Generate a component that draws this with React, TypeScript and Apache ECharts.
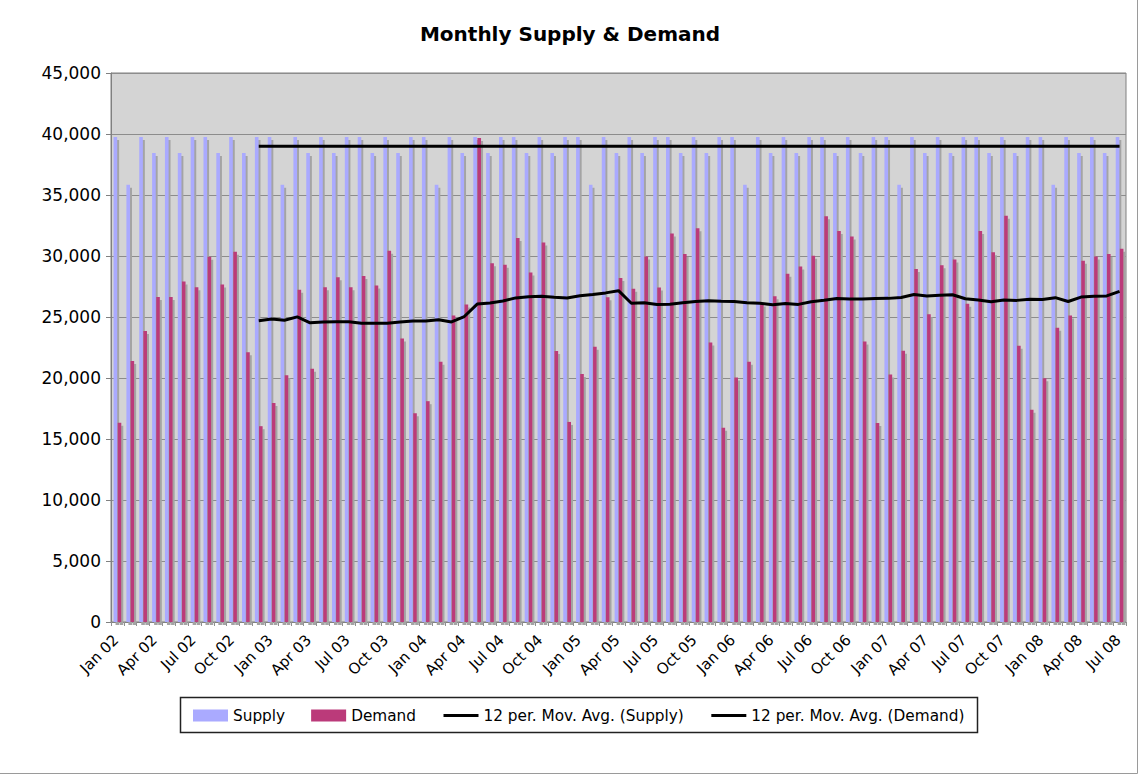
import React, { useEffect, useRef } from "react";
import * as echarts from "echarts";

const FONT = "'DejaVu Sans', Verdana, sans-serif";

const categories: string[] = [
  "Jan 02", "Feb 02", "Mar 02", "Apr 02", "May 02", "Jun 02", "Jul 02", "Aug 02", "Sep 02", "Oct 02", "Nov 02", "Dec 02",
  "Jan 03", "Feb 03", "Mar 03", "Apr 03", "May 03", "Jun 03", "Jul 03", "Aug 03", "Sep 03", "Oct 03", "Nov 03", "Dec 03",
  "Jan 04", "Feb 04", "Mar 04", "Apr 04", "May 04", "Jun 04", "Jul 04", "Aug 04", "Sep 04", "Oct 04", "Nov 04", "Dec 04",
  "Jan 05", "Feb 05", "Mar 05", "Apr 05", "May 05", "Jun 05", "Jul 05", "Aug 05", "Sep 05", "Oct 05", "Nov 05", "Dec 05",
  "Jan 06", "Feb 06", "Mar 06", "Apr 06", "May 06", "Jun 06", "Jul 06", "Aug 06", "Sep 06", "Oct 06", "Nov 06", "Dec 06",
  "Jan 07", "Feb 07", "Mar 07", "Apr 07", "May 07", "Jun 07", "Jul 07", "Aug 07", "Sep 07", "Oct 07", "Nov 07", "Dec 07",
  "Jan 08", "Feb 08", "Mar 08", "Apr 08", "May 08", "Jun 08", "Jul 08",
];

const supply: number[] = [
  39750, 35850, 39750, 38450, 39750, 38450, 39750, 39750, 38450, 39750, 38450, 39750,
  39750, 35850, 39750, 38450, 39750, 38450, 39750, 39750, 38450, 39750, 38450, 39750,
  39750, 35850, 39750, 38450, 39750, 38450, 39750, 39750, 38450, 39750, 38450, 39750,
  39750, 35850, 39750, 38450, 39750, 38450, 39750, 39750, 38450, 39750, 38450, 39750,
  39750, 35850, 39750, 38450, 39750, 38450, 39750, 39750, 38450, 39750, 38450, 39750,
  39750, 35850, 39750, 38450, 39750, 38450, 39750, 39750, 38450, 39750, 38450, 39750,
  39750, 35850, 39750, 38450, 39750, 38450, 39750,
];

const demand: number[] = [
  16340, 21390, 23860, 26640, 26640, 27900, 27440, 29930, 27670, 30340, 22120, 16050,
  17960, 20220, 27230, 20750, 27440, 28260, 27440, 28370, 27580, 30430, 23240, 17110,
  18100, 21330, 25120, 26030, 39670, 29400, 29280, 31480, 28640, 31100, 22210, 16400,
  20330, 22560, 26610, 28200, 27320, 29960, 27410, 31840, 30160, 32280, 22920, 15930,
  20040, 21330, 26100, 26700, 28550, 29140, 30020, 33250, 32040, 31600, 23000, 16310,
  20280, 22240, 28930, 25230, 29250, 29720, 26090, 32040, 30310, 33300, 22650, 17400,
  19980, 24120, 25120, 29610, 29960, 30160, 30600,
];

const yTicks: number[] = [0, 5000, 10000, 15000, 20000, 25000, 30000, 35000, 40000, 45000];

const MA_PERIOD = 12;

// Excel-style trailing moving average trendline (defined from the series itself)
function movingAverage(values: number[], period: number): (number | null)[] {
  return values.map((_, i) => {
    if (i < period - 1) return null;
    let s = 0;
    for (let k = i - period + 1; k <= i; k++) s += values[k];
    return Math.round((s / period) * 10) / 10;
  });
}

export default function App() {
  const ref = useRef<HTMLDivElement>(null);

  useEffect(() => {
    if (!ref.current) return;
    const chart = echarts.init(ref.current, undefined, { renderer: "svg" });
    const barShadow = {
      shadowColor: "#a4a4a4",
      shadowBlur: 0,
      shadowOffsetX: 2,
      shadowOffsetY: 3,
    };
    const hiddenSymbol = { opacity: 0, color: "transparent", borderWidth: 0 };
    const option: any = {
      animation: false,
      backgroundColor: "#ffffff",
      title: {
        text: "Monthly Supply & Demand",
        left: "center",
        top: 19,
        textStyle: { fontFamily: FONT, fontSize: 20, fontWeight: "bold", color: "#000" },
      },
      grid: {
        left: 111,
        top: 73,
        width: 1015,
        height: 549,
        show: true,
        backgroundColor: "#d4d4d4",
        borderColor: "#808080",
        borderWidth: 1,
      },
      legend: {
        left: 193,
        top: 708,
        padding: 0,
        itemWidth: 35,
        itemHeight: 12,
        itemGap: 26,
        textStyle: { fontFamily: FONT, fontSize: 15.3, color: "#000" },
        itemStyle: { shadowBlur: 0, shadowOffsetX: 0, shadowOffsetY: 0, shadowColor: "transparent" },
        lineStyle: { width: 3 },
        data: [
          { name: "Supply", icon: "rect" },
          { name: "Demand", icon: "rect" },
          { name: "12 per. Mov. Avg. (Supply)", itemStyle: hiddenSymbol },
          { name: "12 per. Mov. Avg. (Demand)", itemStyle: hiddenSymbol },
        ],
      },
      xAxis: {
        type: "category",
        data: categories,
        boundaryGap: true,
        axisLine: { show: true, lineStyle: { color: "#808080", width: 1 } },
        axisTick: { show: true, interval: 0, length: 4, lineStyle: { color: "#909090" } },
        axisLabel: {
          interval: 2,
          rotate: 45,
          fontSize: 15,
          fontFamily: FONT,
          color: "#000",
          margin: 14,
          padding: [0, 2, 0, 0],
        },
        splitLine: { show: false },
      },
      yAxis: {
        type: "value",
        min: yTicks[0],
        max: yTicks[yTicks.length - 1],
        interval: 5000,
        axisLine: { show: true, lineStyle: { color: "#808080" } },
        axisTick: { show: true, length: 5, lineStyle: { color: "#808080" } },
        splitLine: { show: true, lineStyle: { color: "#8c8c8c", width: 1 } },
        axisLabel: {
          fontSize: 17,
          fontFamily: FONT,
          color: "#000",
          margin: 10,
          formatter: (v: number) => v.toLocaleString("en-US"),
        },
      },
      series: [
        {
          name: "Supply",
          type: "bar",
          data: supply,
          barWidth: 3.6,
          barGap: "15%",
          itemStyle: { color: "#aaaaff", ...barShadow },
        },
        {
          name: "Demand",
          type: "bar",
          data: demand,
          barWidth: 3.6,
          barGap: "15%",
          itemStyle: { color: "#bb3a7a", ...barShadow },
        },
        {
          name: "12 per. Mov. Avg. (Supply)",
          type: "line",
          data: movingAverage(supply, MA_PERIOD),
          symbol: "none",
          lineStyle: { color: "#000", width: 3 },
          itemStyle: { color: "#000" },
          z: 5,
        },
        {
          name: "12 per. Mov. Avg. (Demand)",
          type: "line",
          data: movingAverage(demand, MA_PERIOD),
          symbol: "none",
          lineStyle: { color: "#000", width: 3 },
          itemStyle: { color: "#000" },
          z: 5,
        },
      ],
      graphic: [
        {
          type: "rect",
          shape: { x: 180.5, y: 697.5, width: 797, height: 35 },
          style: { fill: "none", stroke: "#222", lineWidth: 1.5 },
          silent: true,
        },
        {
          type: "polyline",
          shape: { points: [[1137.5, 0], [1137.5, 773.5], [0, 773.5]] },
          style: { fill: "none", stroke: "#9a9a9a", lineWidth: 1 },
          silent: true,
        },
      ],
    };
    chart.setOption(option);
    return () => chart.dispose();
  }, []);

  return (
    <div
      ref={ref}
      style={{ position: "absolute", left: 0, top: 0, width: 1140, height: 775, background: "#fff" }}
    />
  );
}
